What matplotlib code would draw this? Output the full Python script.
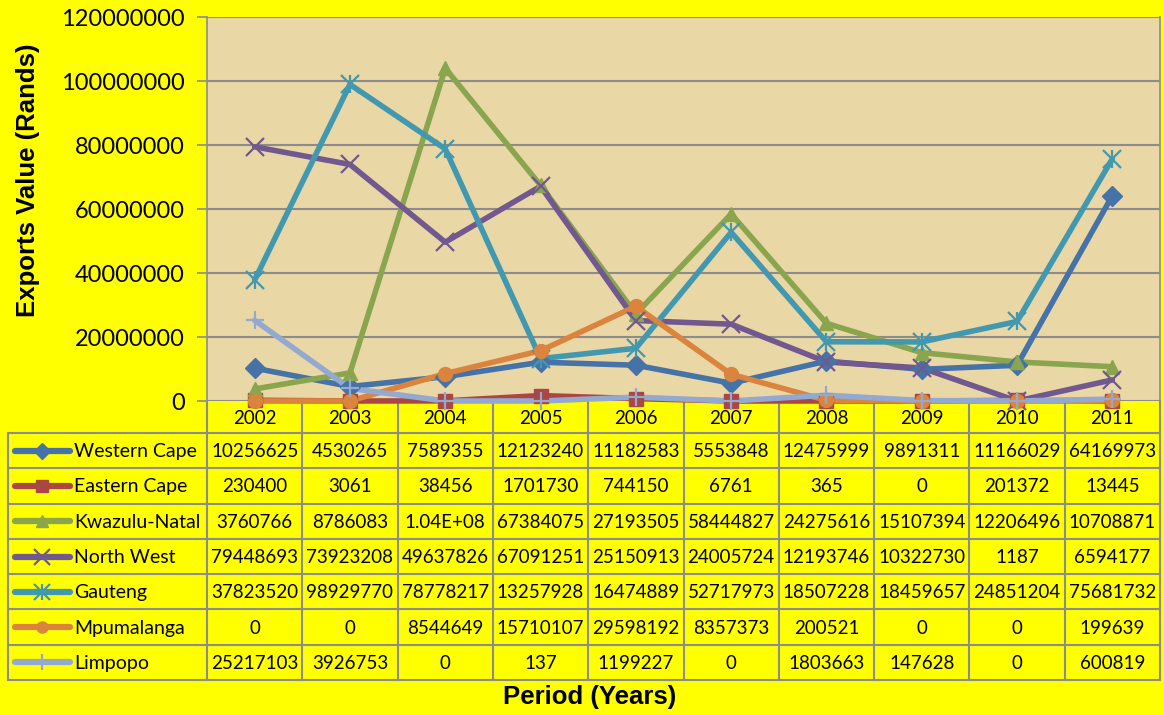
import numpy as np
import matplotlib
matplotlib.use('Agg')
from matplotlib import pyplot as plt
from matplotlib import transforms

years = ['2002', '2003', '2004', '2005', '2006', '2007', '2008', '2009', '2010', '2011']
western_cape = [10256625, 4530265, 7589355, 12123240, 11182583, 5553848, 12475999, 9891311, 11166029, 64169973]
eastern_cape = [230400, 3061, 38456, 1701730, 744150, 6761, 365, 0, 201372, 13445]
kwazulu_natal = [3760766, 8786083, 104000000, 67384075, 27193505, 58444827, 24275616, 15107394, 12206496, 10708871]
north_west = [79448693, 73923208, 49637826, 67091251, 25150913, 24005724, 12193746, 10322730, 1187, 6594177]
gauteng = [37823520, 98929770, 78778217, 13257928, 16474889, 52717973, 18507228, 18459657, 24851204, 75681732]
mpumalanga = [0, 0, 8544649, 15710107, 29598192, 8357373, 200521, 0, 0, 199639]
limpopo = [25217103, 3926753, 0, 137, 1199227, 0, 1803663, 147628, 0, 600819]

series = [
    ('Western Cape', western_cape, '#4572A7', 'D'),
    ('Eastern Cape', eastern_cape, '#AA4643', 's'),
    ('Kwazulu-Natal', kwazulu_natal, '#89A54E', '^'),
    ('North West', north_west, '#71588F', 'x'),
    ('Gauteng', gauteng, '#4198AF', 'x|'),
    ('Mpumalanga', mpumalanga, '#DB843D', 'o'),
    ('Limpopo', limpopo, '#93A9CF', '+'),
]

W, H = 1164, 715
yellow = '#FFFF00'
grid_c = '#8C8C8C'
num_font = 'Lato'

fig = plt.figure(figsize=(W / 100, H / 100), dpi=100, facecolor=yellow)
ax_l, ax_r, ax_t, ax_b = 207, 1160, 17, 401
ax = fig.add_axes([ax_l / W, 1 - ax_b / H, (ax_r - ax_l) / W, (ax_b - ax_t) / H])
ax.set_facecolor('#EAD7A6')

x = np.arange(len(years))


def draw_series(a, xs, ys, color, marker, ms=10, lw=4, transform=None):
    kw = {} if transform is None else {'transform': transform}
    a.plot(xs, ys, color=color, lw=lw, solid_capstyle='round', clip_on=False, zorder=3, **kw)
    for m in (marker if marker == 'x|' else [marker]):
        mew = 1.6 if m in 'x|+' else 1
        a.plot(xs, ys, ls='none', marker=m, ms=ms + (3 if m in 'x|+' else 0),
               color=color, mew=mew, clip_on=False, zorder=4, **kw)


for name, vals, color, marker in series:
    draw_series(ax, x, vals, color, marker)

ax.set_xlim(-0.5, len(years) - 0.5)
ax.set_ylim(0, 120000000)
ax.set_yticks(np.arange(0, 120000001, 20000000))
ax.set_yticklabels([str(v) for v in range(0, 120000001, 20000000)], fontsize=17, family=num_font)
ax.yaxis.grid(True, color=grid_c, lw=1.5)
ax.set_axisbelow(True)
ax.set_xticks([])
ax.tick_params(axis='y', length=7, width=1.2, color=grid_c, pad=9)
for s in ['top', 'bottom']:
    ax.spines[s].set_visible(False)
for s in ['left', 'right']:
    ax.spines[s].set_color(grid_c)
    ax.spines[s].set_linewidth(1.2)

# data table under the chart, in pixel coords vertically
tab = fig.add_axes([0, 0, 1, 1], zorder=-1)
tab.set_xlim(0, W)
tab.set_ylim(H, 0)
tab.axis('off')
blend = transforms.blended_transform_factory(ax.transData, tab.transData)

tbl_left, tbl_top, tbl_bot = 8, 433, 680
row_h = (tbl_bot - tbl_top) / len(series)

for i in range(len(years) + 1):
    tab.plot([i - 0.5, i - 0.5], [ax_b, tbl_bot], color=grid_c, lw=1.5, transform=blend)
tab.plot([tbl_left, tbl_left], [tbl_top, tbl_bot], color=grid_c, lw=1.5)
for k in range(len(series) + 1):
    yy = tbl_top + k * row_h
    tab.plot([tbl_left, ax_r], [yy, yy], color=grid_c, lw=1.5)

for i, yr in enumerate(years):
    tab.text(i, (ax_b + tbl_top) / 2 + 1, yr, transform=blend, ha='center', va='center',
             fontsize=13.5, family=num_font)


def fmt(v):
    return '{:.2E}'.format(v) if v >= 1e8 else str(v)


for k, (name, vals, color, marker) in enumerate(series):
    yc = tbl_top + (k + 0.5) * row_h
    draw_series(tab, [15, 70], [yc, yc], color, ' ', lw=4.5)
    draw_series(tab, [42], [yc], color, marker, ms=8)
    tab.text(74, yc + 1, name, ha='left', va='center', fontsize=14, family=num_font)
    for i, v in enumerate(vals):
        tab.text(i, yc + 1, fmt(v), transform=blend, ha='center', va='center',
                 fontsize=13.5, family=num_font)

fig.text(28 / W, 1 - 180 / H, 'Exports Value (Rands)', rotation=90, ha='center', va='center',
         fontsize=18.5, fontweight='bold', family='Liberation Sans')
fig.text(590 / W, 1 - 697 / H, 'Period (Years)', ha='center', va='center',
         fontsize=18.5, fontweight='bold', family='Liberation Sans')

fig.savefig('out.png', dpi=100, facecolor=yellow)
